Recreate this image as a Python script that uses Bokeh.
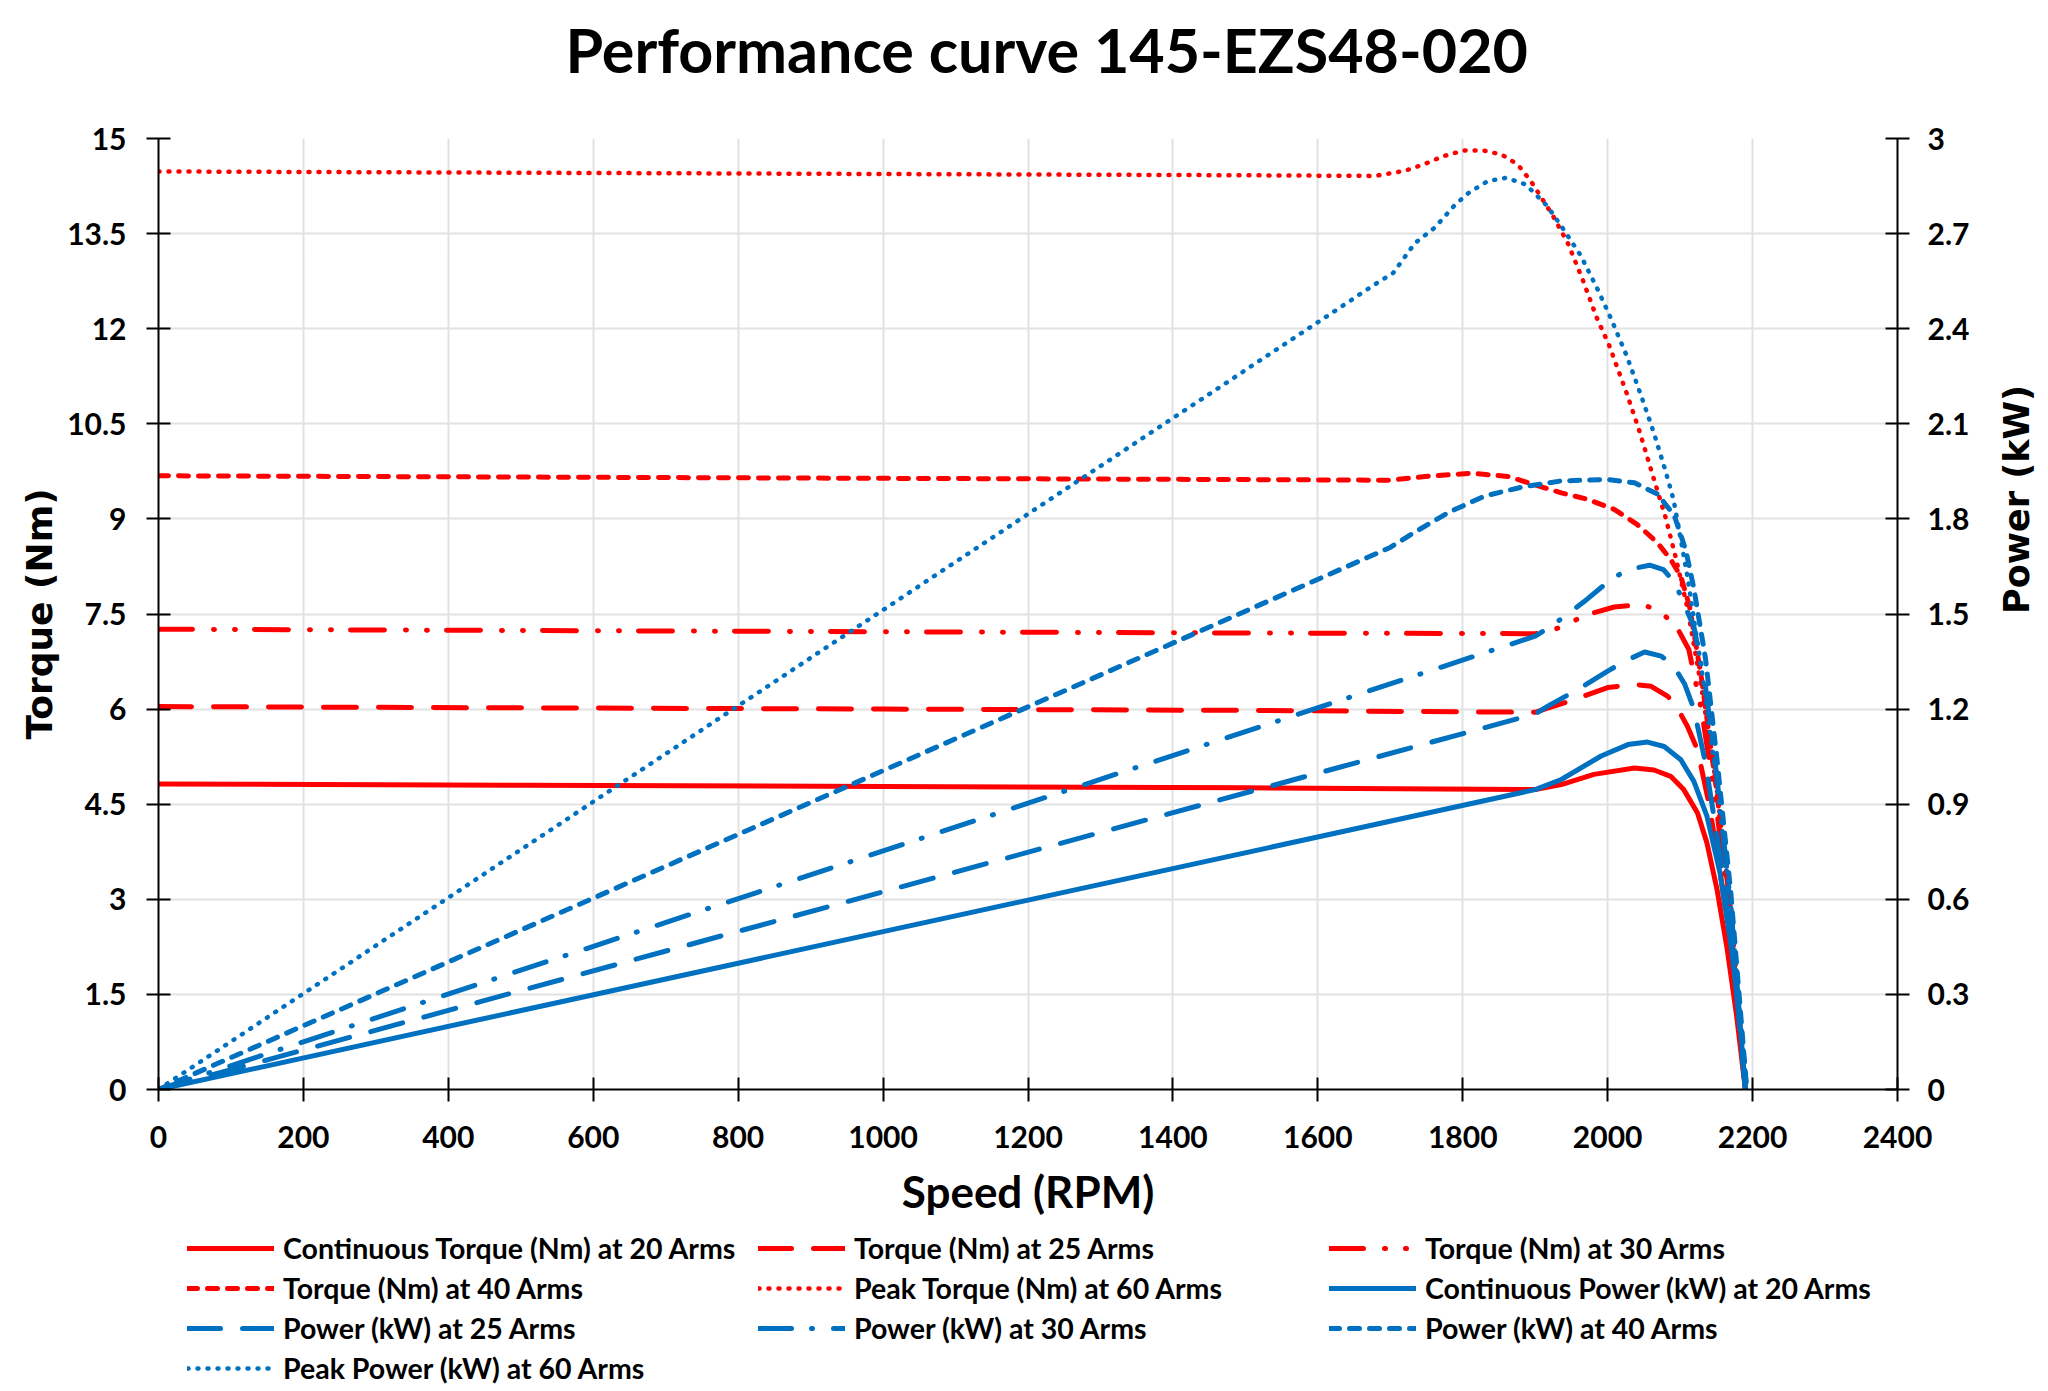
import math
from bokeh.plotting import figure
from bokeh.layouts import column
from bokeh.models import Range1d, LinearAxis, FixedTicker, NumeralTickFormatter, Legend, LegendItem, Title
from bokeh.embed import file_html
from bokeh.resources import INLINE

# ---------------- data ----------------
title_text = "Performance curve 145-EZS48-020"
x_label = "Speed (RPM)"
y_label = "Torque (Nm)"
y2_label = "Power (kW)"
x_ticks = [0, 200, 400, 600, 800, 1000, 1200, 1400, 1600, 1800, 2000, 2200, 2400]
torque_ticks = [0, 1.5, 3, 4.5, 6, 7.5, 9, 10.5, 12, 13.5, 15]
power_ticks = [0, 0.3, 0.6, 0.9, 1.2, 1.5, 1.8, 2.1, 2.4, 2.7, 3.0]

t20_rpm = [0, 500, 1000, 1500, 1900, 1936, 1981, 2037, 2064, 2087, 2105, 2124, 2137, 2151, 2165, 2178, 2190]
t20_val = [4.82, 4.80, 4.78, 4.76, 4.73, 4.81, 4.97, 5.07, 5.04, 4.94, 4.73, 4.36, 3.89, 3.15, 2.21, 1.16, 0.0]
t25_rpm = [0, 500, 1000, 1500, 1900, 1913, 1954, 2000, 2037, 2060, 2083, 2096, 2110, 2124, 2140, 2155, 2172, 2190]
t25_val = [6.04, 6.02, 6.00, 5.98, 5.95, 6.00, 6.15, 6.34, 6.39, 6.36, 6.20, 6.02, 5.73, 5.36, 4.50, 3.45, 2.05, 0.0]
t30_rpm = [0, 500, 1000, 1500, 1900, 1922, 1972, 2009, 2048, 2073, 2096, 2112, 2130, 2150, 2170, 2190]
t30_val = [7.26, 7.24, 7.22, 7.20, 7.19, 7.23, 7.49, 7.61, 7.65, 7.54, 7.28, 6.94, 5.95, 4.45, 2.60, 0.0]
t40_rpm = [0, 500, 1000, 1500, 1700, 1748, 1812, 1862, 1899, 1936, 1972, 2009, 2041, 2069, 2087, 2101, 2113, 2130, 2150, 2170, 2190]
t40_val = [9.68, 9.66, 9.64, 9.62, 9.61, 9.67, 9.72, 9.67, 9.54, 9.41, 9.31, 9.15, 8.91, 8.62, 8.36, 8.09, 7.62, 6.45, 4.75, 2.80, 0.0]
t60_rpm = [0, 500, 1000, 1500, 1679, 1720, 1748, 1773, 1801, 1828, 1853, 1876, 1895, 1924, 1945, 1966, 1985, 2002,
           2026, 2044, 2064, 2080, 2094, 2110, 2130, 2150, 2170, 2190]
t60_val = [14.48, 14.46, 14.44, 14.42, 14.41, 14.49, 14.60, 14.72, 14.81, 14.81, 14.75, 14.59, 14.31, 13.79, 13.35, 12.76,
           12.17, 11.74, 10.99, 10.38, 9.62, 9.02, 8.39, 7.60, 6.30, 4.80, 2.80, 0.0]
p20_rpm = [0, 1900, 1936, 1991, 2028, 2055, 2078, 2101, 2119, 2137, 2155, 2171, 2183, 2190]
p20_val = [0, 0.946, 0.978, 1.052, 1.088, 1.096, 1.082, 1.04, 0.972, 0.862, 0.684, 0.442, 0.20, 0.0]
p25_rpm = [0, 1900, 1918, 1959, 2000, 2028, 2051, 2074, 2090, 2106, 2119, 2135, 2155, 2172, 2190]
p25_val = [0, 1.185, 1.21, 1.262, 1.32, 1.356, 1.38, 1.367, 1.34, 1.28, 1.20, 1.03, 0.74, 0.45, 0.0]
p30_rpm = [0, 1900, 1922, 1945, 1968, 2005, 2028, 2058, 2077, 2093, 2119, 2135, 2150, 2170, 2190]
p30_val = [0, 1.43, 1.462, 1.50, 1.54, 1.61, 1.64, 1.654, 1.64, 1.598, 1.46, 1.27, 1.00, 0.58, 0.0]
p40_rpm = [0, 1700, 1725, 1780, 1830, 1881, 1936, 2000, 2037, 2069, 2092, 2108, 2119, 2135, 2150, 2170, 2192]
p40_val = [0, 1.71, 1.746, 1.82, 1.872, 1.90, 1.92, 1.924, 1.914, 1.878, 1.81, 1.70, 1.58, 1.36, 1.06, 0.62, 0.0]
p60_rpm = [0, 1679, 1704, 1734, 1761, 1789, 1809, 1835, 1860, 1887, 1917, 1940, 1963, 1987, 2005, 2027, 2046, 2064,
           2080, 2091, 2110, 2130, 2150, 2170, 2192]
p60_val = [0, 2.54, 2.576, 2.67, 2.718, 2.79, 2.83, 2.866, 2.876, 2.855, 2.786, 2.71, 2.63, 2.52, 2.43, 2.31, 2.19, 2.07,
           1.95, 1.86, 1.62, 1.32, 0.98, 0.58, 0.0]

labels = [
    "Continuous Torque (Nm) at 20 Arms",
    "Torque (Nm) at 25 Arms",
    "Torque (Nm) at 30 Arms",
    "Torque (Nm) at 40 Arms",
    "Peak Torque (Nm) at 60 Arms",
    "Continuous Power (kW) at 20 Arms",
    "Power (kW) at 25 Arms",
    "Power (kW) at 30 Arms",
    "Power (kW) at 40 Arms",
    "Peak Power (kW) at 60 Arms",
]

RED = "#FF0000"
BLUE = "#0070C0"
FONT = "Lato"
W = 5
styles = {
    "solid": ("solid", W),
    "long": ("33 22", W),
    "ldd": ("34 21 1 20 1 19", W),
    "ld": ("33 20 1 21", W),
    "dash": ("10 10", W),
    "dot": ("1 9", 4.5),
}

def blank(fig):
    fig.outline_line_color = None
    fig.grid.visible = False
    fig.background_fill_color = "white"
    fig.border_fill_color = "white"

# ---------------- title strip ----------------
p0 = figure(frame_width=1739, frame_height=17, x_range=Range1d(0, 1), y_range=Range1d(0, 1),
            x_axis_type=None, y_axis_type=None, output_backend="svg", toolbar_location=None,
            min_border_left=158, min_border_right=0, min_border_top=0, min_border_bottom=0,
            title=None)
blank(p0)
main_title = Title(text=title_text, text_font=FONT, text_font_size="61px", text_font_style="bold",
                   text_color="black", align="left", offset=407, standoff=21)
p0.add_layout(main_title, "above")

# ---------------- main chart ----------------
p = figure(frame_width=1739, frame_height=951,
           x_range=Range1d(0, 2400), y_range=Range1d(0, 15),
           output_backend="svg", toolbar_location=None,
           min_border_left=158, min_border_right=0, min_border_top=25, min_border_bottom=143,
           title=None)
p.outline_line_color = None
p.background_fill_color = "white"
p.border_fill_color = "white"

p.extra_y_ranges = {"power": Range1d(0, 3)}

def style_axis(ax, ticks):
    ax.ticker = FixedTicker(ticks=ticks)
    ax.formatter = NumeralTickFormatter(format="0.[0]")
    ax.axis_line_color = "black"
    ax.axis_line_width = 2
    ax.major_tick_line_color = "black"
    ax.major_tick_line_width = 2
    ax.major_tick_in = 12
    ax.major_tick_out = 12
    ax.minor_tick_line_color = None
    ax.major_label_text_font = FONT
    ax.major_label_text_font_style = "bold"
    ax.major_label_text_font_size = "30px"
    ax.major_label_text_color = "black"
    ax.axis_label_text_font_style = "bold"
    ax.axis_label_text_color = "black"

xa = p.xaxis[0]
style_axis(xa, x_ticks)
xa.axis_label = x_label
xa.axis_label_text_font = FONT
xa.axis_label_text_font_size = "44px"
xa.major_label_standoff = 24
xa.axis_label_standoff = 14

ya = p.yaxis[0]
style_axis(ya, torque_ticks)
ya.axis_label = y_label
ya.axis_label_text_font = "DejaVu Sans"
ya.axis_label_text_font_size = "36px"
ya.major_label_standoff = 20
ya.axis_label_standoff = 4

ya2 = LinearAxis(y_range_name="power")
style_axis(ya2, power_ticks)
ya2.axis_label = y2_label
ya2.axis_label_text_font = "DejaVu Sans"
ya2.axis_label_text_font_size = "35px"
ya2.major_label_standoff = 18
ya2.axis_label_standoff = 45
if hasattr(ya2, "axis_label_orientation"):
    ya2.axis_label_orientation = math.pi / 2
p.add_layout(ya2, "right")

p.xgrid.ticker = FixedTicker(ticks=x_ticks)
p.ygrid.ticker = FixedTicker(ticks=torque_ticks)
for g in (p.xgrid[0], p.ygrid[0]):
    g.grid_line_color = "#e2e2e2"
    g.grid_line_width = 2

series = [
    (t20_rpm, t20_val, RED, "solid", "default"),
    (t25_rpm, t25_val, RED, "long", "default"),
    (t30_rpm, t30_val, RED, "ldd", "default"),
    (t40_rpm, t40_val, RED, "dash", "default"),
    (t60_rpm, t60_val, RED, "dot", "default"),
    (p20_rpm, p20_val, BLUE, "solid", "power"),
    (p25_rpm, p25_val, BLUE, "long", "power"),
    (p30_rpm, p30_val, BLUE, "ld", "power"),
    (p40_rpm, p40_val, BLUE, "dash", "power"),
    (p60_rpm, p60_val, BLUE, "dot", "power"),
]

for (xs, ys, col, st, rng) in series:
    dash, w = styles[st]
    p.line(xs, ys, line_color=col, line_width=w, line_dash=dash, line_cap="round",
           line_join="round", y_range_name=rng)

# ---------------- legend strip ----------------
# same series drawn again on an off-screen range, only so the legend has renderers to sample
p2 = figure(frame_width=2039, frame_height=153, x_range=Range1d(-2, -1), y_range=Range1d(-2, -1),
            x_axis_type=None, y_axis_type=None, output_backend="svg", toolbar_location=None,
            min_border_left=0, min_border_right=0, min_border_top=0, min_border_bottom=0)
blank(p2)

items = []
for (xs, ys, col, st, rng), lab in zip(series, labels):
    dash, w = styles[st]
    r = p2.line(xs, ys, line_color=col, line_width=w, line_dash=dash, line_cap="round",
                line_join="round")
    items.append(LegendItem(label=lab, renderers=[r]))

legend = Legend(items=items, orientation="horizontal", ncols=3, location=(187, 0))
legend.label_text_font = FONT
legend.label_text_font_size = "28.5px"
legend.label_text_font_style = "bold"
legend.label_text_color = "black"
legend.glyph_width = 87
legend.glyph_height = 30
legend.label_height = 30
legend.label_width = 469
legend.label_standoff = 9
legend.spacing = 6
legend.padding = 0
legend.margin = 0
legend.border_line_color = None
legend.background_fill_alpha = 0
p2.add_layout(legend, "center")

layout = column(p0, p, p2, spacing=0)
open("out.html", "w").write(file_html(layout, INLINE))
